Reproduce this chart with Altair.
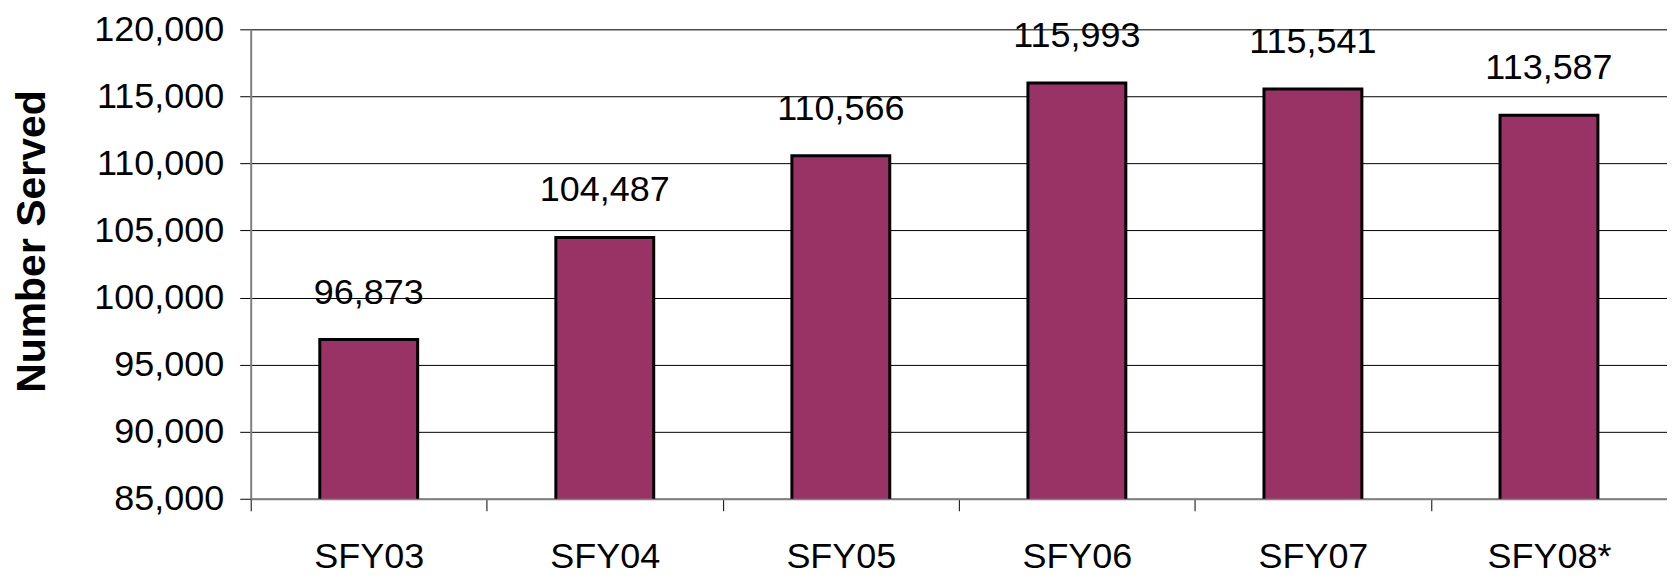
import altair as alt
import pandas as pd

categories = ["SFY03", "SFY04", "SFY05", "SFY06", "SFY07", "SFY08*"]
values = [96873, 104487, 110566, 115993, 115541, 113587]

df = pd.DataFrame({"year": categories, "served": values})

FONT = "Liberation Sans"

base = alt.Chart(df).encode(
    x=alt.X(
        "year:N",
        sort=categories,
        scale=alt.Scale(paddingInner=0, paddingOuter=0),
        axis=alt.Axis(
            title=None,
            labelAngle=0,
            labelFont=FONT,
            labelFontSize=36,
            labelColor="black",
            labelPadding=29,
            tickBand="extent",
            tickSize=12,
            tickColor="black",
            tickWidth=1,
            domainColor="#808080",
            domainWidth=2,
            grid=False,
        ),
    ),
    y=alt.Y(
        "served:Q",
        scale=alt.Scale(domain=[85000, 120000], nice=False, zero=False),
        axis=alt.Axis(
            title="Number Served",
            titleFont=FONT,
            titleFontSize=41,
            titleFontWeight="bold",
            titleColor="black",
            titleX=-218,
            titleY=212,
            titleAlign="center",
            titleBaseline="middle",
            titleAngle=270,
            values=[85000, 90000, 95000, 100000, 105000, 110000, 115000, 120000],
            format=",d",
            labelFont=FONT,
            labelFontSize=36,
            labelColor="black",
            labelPadding=16,
            tickSize=11,
            tickColor="black",
            tickWidth=1,
            domainColor="#808080",
            domainWidth=2,
            grid=True,
            gridColor="black",
            gridWidth=1,
        ),
    ),
)

bars = base.mark_bar(size=98, color="#993366", stroke="black", strokeWidth=3, clip=True)

labels = base.mark_text(
    font=FONT, fontSize=36, color="black", baseline="alphabetic", dy=-36
).encode(text=alt.Text("served:Q", format=",d"))

chart = (
    alt.layer(bars, labels)
    .properties(
        width=1418,
        height=470,
        autosize=alt.AutoSizeParams(type="none"),
        padding={"left": 243, "top": 21, "right": 0, "bottom": 78},
    )
    .configure_view(stroke="#808080", strokeWidth=2)
    .configure(background="white")
)

chart.save("out.html", embed_options={"renderer": "svg", "actions": False})
